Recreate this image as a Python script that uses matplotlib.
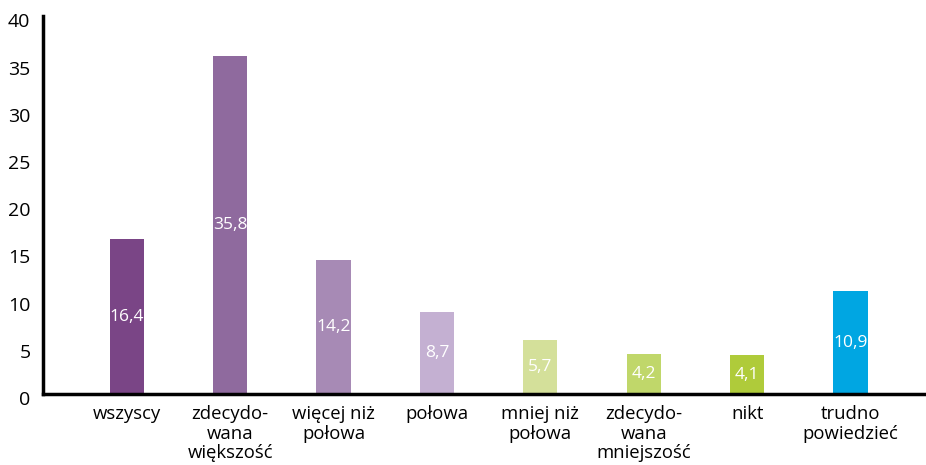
import matplotlib
matplotlib.use("Agg")
import matplotlib.pyplot as plt
from matplotlib.transforms import ScaledTranslation

categories = ["wszyscy", "zdecydo-\nwana\nwiększość", "więcej niż\npołowa", "połowa",
              "mniej niż\npołowa", "zdecydo-\nwana\nmniejszość", "nikt", "trudno\npowiedzieć"]
values = [16.4, 35.8, 14.2, 8.7, 5.7, 4.2, 4.1, 10.9]
value_labels = ["16,4", "35,8", "14,2", "8,7", "5,7", "4,2", "4,1", "10,9"]
colors = ["#7a4586", "#8f6a9e", "#a78ab5", "#c4b0d2", "#d4e09a", "#c0d76a", "#afcb3a", "#00a6e2"]
yticks = [0, 5, 10, 15, 20, 25, 30, 35, 40]

plt.rcParams['font.family'] = ['Open Sans', 'DejaVu Sans']

fig = plt.figure(figsize=(9.26, 4.65), dpi=100)
ax = fig.add_axes([0.0464, 0.1527, 0.9536, 0.812])

x = list(range(len(categories)))
ax.bar(x, values, width=0.33, color=colors)
for xi, v, lab in zip(x, values, value_labels):
    ax.text(xi, v / 2, lab, ha='center', va='center', color='white', fontsize=12.5)

ax.set_xlim(-0.81, 7.73)
ax.set_ylim(0, 40)
ax.set_xticks(x)
ax.set_xticklabels(categories, fontsize=13.3, linespacing=1.12)
ax.set_yticks(yticks)
ax.set_yticklabels([str(t) for t in yticks], fontsize=14)
ax.tick_params(axis='both', length=0)
ax.tick_params(axis='x', pad=8)
ax.tick_params(axis='y', pad=9)
for lab in ax.get_yticklabels():
    lab.set_transform(lab.get_transform() + ScaledTranslation(0, -4 / 100, fig.dpi_scale_trans))

for s in ['top', 'right']:
    ax.spines[s].set_visible(False)
for s in ['left', 'bottom']:
    ax.spines[s].set_linewidth(2.5)
    ax.spines[s].set_color('black')

fig.savefig("out.png", dpi=100)
